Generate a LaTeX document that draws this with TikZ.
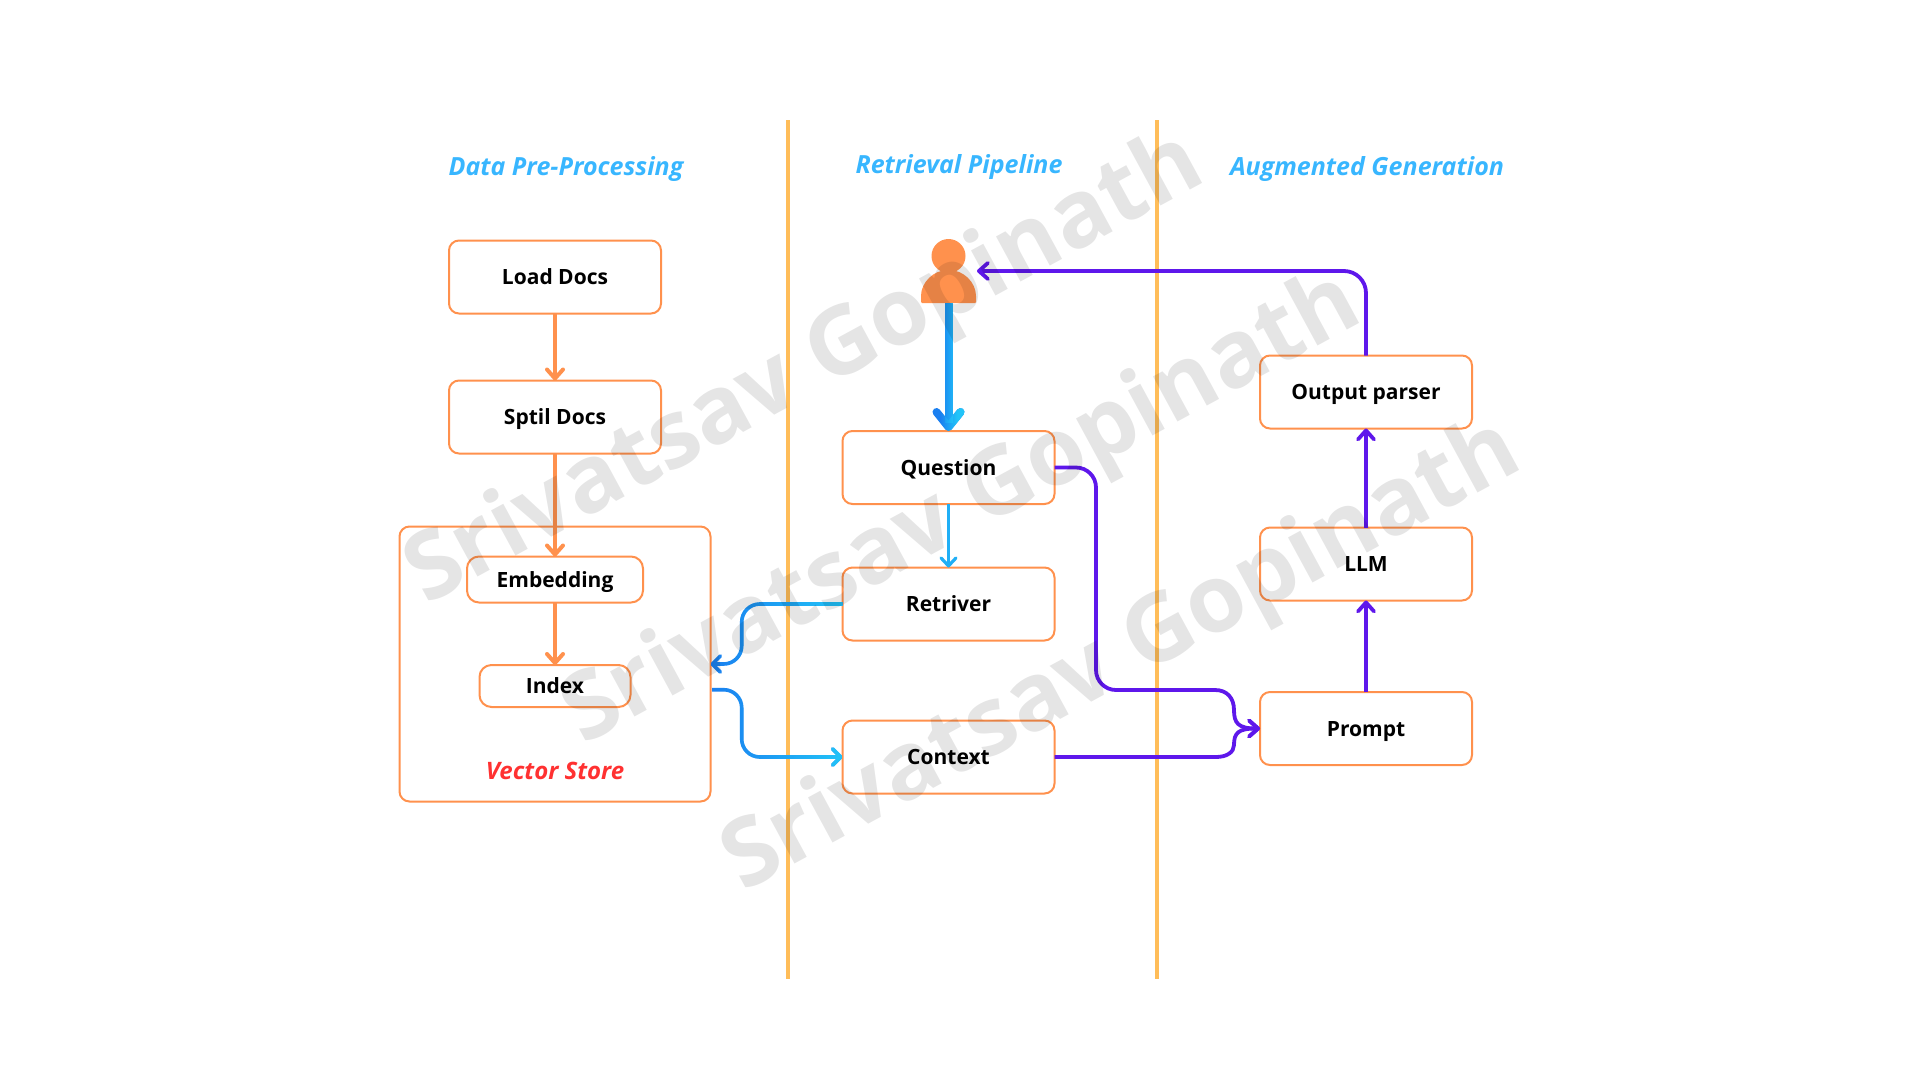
\documentclass[tikz,border=0pt]{standalone}
\usepackage{fontspec}
\setmainfont{Open Sans}
\usetikzlibrary{arrows.meta,fadings}
\tikzfading[name=fadeinleft, left color=transparent!100, right color=transparent!0]
\definecolor{boxorange}{HTML}{FF914D}
\definecolor{rulegold}{HTML}{FFBD59}
\definecolor{headblue}{HTML}{38B6FF}
\definecolor{lineblue}{HTML}{1A7FF0}
\definecolor{linecyan}{HTML}{22C4F8}
\definecolor{linepurple}{HTML}{5E17EB}
\definecolor{storered}{HTML}{FF3131}
\tikzset{
  stepbox/.style={draw=boxorange, line width=2pt, rounded corners=10pt, outer sep=0pt, inner sep=0pt, minimum width=212pt, minimum height=73pt, text height=15pt, text depth=0pt, font=\fontsize{21}{25}\selectfont\bfseries},
  smallbox/.style={stepbox, rounded corners=12pt},
  headtext/.style={text=headblue, font=\fontsize{25}{29}\selectfont\bfseries\itshape},
  orangeline/.style={draw=boxorange, line width=4pt, -{Straight Barb[length=9pt,width=16pt,round]}},
  purpleline/.style={draw=linepurple, line width=3.8pt, -{Straight Barb[length=9pt,width=16pt,round]}},
  blueline/.style={draw=lineblue, line width=3.6pt, rounded corners=18pt, -{Straight Barb[length=8pt,width=16pt,round]}, postaction={draw=linecyan, path fading=fadeinleft}},
  watermark/.style={text=black, text opacity=0.1, rotate=28.5, font=\fontsize{94}{110}\selectfont\bfseries}
}
\begin{document}
\begin{tikzpicture}[x=1pt,y=-1pt]
  \useasboundingbox (0,0) rectangle (1920,1080);
  \draw[rulegold, line width=3.6pt] (788,120) to (788,979);
  \draw[rulegold, line width=3.6pt] (1157,120) to (1157,979);

  \node[headtext] (headdata) at (566,169) {Data Pre-Processing};
  \node[headtext] (headretr) at (959,167) {Retrieval Pipeline};
  \node[headtext] (headaug) at (1367,169) {Augmented Generation};

  \node[stepbox] (load) at (555,277) {Load Docs};
  \node[stepbox] (split) at (555,417) {Sptil Docs};
  \node[stepbox, minimum width=311pt, minimum height=275pt] (vstore) at (555,664) {};
  \node[smallbox, minimum width=176pt, minimum height=46pt] (embed) at (555,579.5) {Embedding};
  \node[smallbox, minimum width=151pt, minimum height=42pt] (index) at (555,686) {Index};
  \node[text=storered, font=\fontsize{24}{28}\selectfont\bfseries\itshape] (storelabel) at (555,771) {Vector Store};

  \node[stepbox] (ques) at (948.5,467.5) {Question};
  \node[stepbox] (retr) at (948.5,604) {Retriver};
  \node[stepbox] (ctx) at (948.5,757) {Context};

  \node[stepbox] (output) at (1366,392) {Output parser};
  \node[stepbox] (llm) at (1366,564) {LLM};
  \node[stepbox] (prompt) at (1366,728.5) {Prompt};

  \fill[boxorange] (948.5,256) circle (17);
  \fill[boxorange, rounded corners=1pt] (921,303) -- (921,297) .. controls (921,282) and (934,270) .. (948.5,270) .. controls (963,270) and (976,282) .. (976,297) -- (976,303) -- cycle;
  \coordinate (usrfoot) at (948.5,303);
  \coordinate (usrside) at (977,271);
  \coordinate (vsout) at (712,689.7);

  \draw[orangeline] (load) -- (split);
  \draw[orangeline] (split) -- (embed);
  \draw[orangeline] (embed) -- (index);

  \draw[blueline, line width=8pt, -{Straight Barb[length=15pt,width=24pt,round]}] (944,370) (953,370) (usrfoot) -- (ques.north);
  \draw[draw=lineblue!30!linecyan, line width=3.2pt, -{Straight Barb[length=8pt,width=15pt,round]}] (ques) -- (retr);
  \draw[blueline] (retr.west) to (741.7,604) to (741.7,664) to (vstore.east);
  \draw[blueline] (vsout) to (741.7,689.7) to (741.7,757) to (ctx.west);

  \draw[purpleline] (prompt) -- (llm);
  \draw[purpleline] (llm) -- (output);
  \draw[purpleline, rounded corners=22pt] (output.north) to (1366,271) to (usrside);
  \draw[purpleline, rounded corners=20pt] (ques.east) to (1096,467.5) to (1096,690) [sharp corners] to (1215,690) .. controls (1227,690) and (1234,698) .. (1234,710) .. controls (1234,723) and (1238,728.5) .. (prompt.west);
  \draw[purpleline] (ctx.east) to (1216,757) .. controls (1227,757) and (1234,752) .. (1234,745) .. controls (1234,733) and (1238,728.5) .. (prompt.west);

  \node[watermark] (markone) at (806,371) {Srivatsav Gopinath};
  \node[watermark] (marktwo) at (963,511) {Srivatsav Gopinath};
  \node[watermark] (markthree) at (1123,658) {Srivatsav Gopinath};
\end{tikzpicture}
\end{document}
